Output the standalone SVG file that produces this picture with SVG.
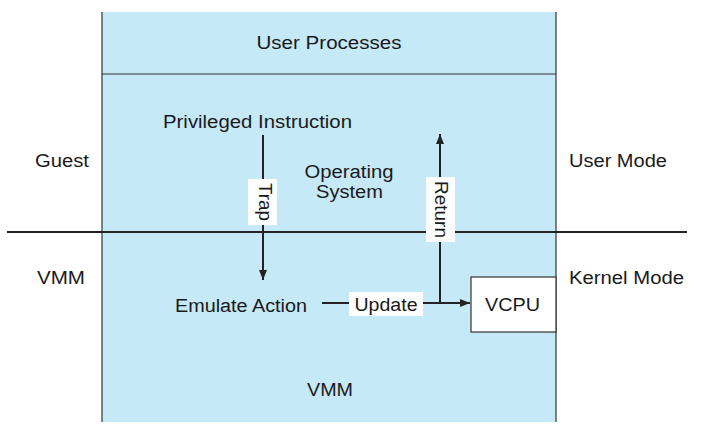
<svg xmlns="http://www.w3.org/2000/svg" width="703" height="431" viewBox="0 0 703 431">
<style>
text{font-family:"Liberation Sans",Arial,sans-serif;font-size:18px;fill:#1a1a1a}
.c{text-anchor:middle}
.ln{stroke:#222;stroke-width:2;fill:none}
.bd{stroke:#333;stroke-width:1.2;fill:none}
.lbl{fill:#fff;stroke:none}
</style>
<defs>
<marker id="ah" viewBox="0 0 10 10" refX="10" refY="5" markerWidth="10" markerHeight="10" markerUnits="userSpaceOnUse" orient="auto">
<path d="M0,1 L10,5 L0,9 Z" fill="#222"/>
</marker>
</defs>
<rect width="703" height="431" fill="#fff"/>
<g id="vm-area">
<rect x="102" y="12" width="454" height="410" fill="#c6e9f8"/>
<line class="bd" x1="102" y1="12" x2="102" y2="422"/>
<line class="bd" x1="556" y1="12" x2="556" y2="422"/>
<line class="bd" x1="102" y1="74" x2="556" y2="74"/>
</g>
<g id="user-processes"><text x="329" y="49" class="c" textLength="145" lengthAdjust="spacingAndGlyphs">User Processes</text></g>
<g id="privileged-instruction"><text x="163" y="128" textLength="189" lengthAdjust="spacingAndGlyphs">Privileged Instruction</text></g>
<g id="operating-system">
<text x="349" y="178" class="c" textLength="89" lengthAdjust="spacingAndGlyphs">Operating</text>
<text x="349.5" y="198" class="c" textLength="67" lengthAdjust="spacingAndGlyphs">System</text>
</g>
<g id="guest"><text x="35" y="167" textLength="54" lengthAdjust="spacingAndGlyphs">Guest</text></g>
<g id="vmm-left"><text x="37" y="284" textLength="48" lengthAdjust="spacingAndGlyphs">VMM</text></g>
<g id="user-mode"><text x="569" y="167" textLength="98" lengthAdjust="spacingAndGlyphs">User Mode</text></g>
<g id="kernel-mode"><text x="569" y="284" textLength="115" lengthAdjust="spacingAndGlyphs">Kernel Mode</text></g>
<g id="emulate-action"><text x="175" y="312" textLength="132" lengthAdjust="spacingAndGlyphs">Emulate Action</text></g>
<g id="vmm-bottom"><text x="330" y="396" class="c" textLength="46" lengthAdjust="spacingAndGlyphs">VMM</text></g>
<g id="vcpu">
<rect x="471" y="277" width="85" height="55" fill="#fff" stroke="#333" stroke-width="1.2"/>
<text x="512.5" y="311" class="c" textLength="55" lengthAdjust="spacingAndGlyphs">VCPU</text>
</g>
<g id="connectors">
<line class="ln" x1="7" y1="232" x2="687" y2="232"/>
<line class="ln" x1="263" y1="135" x2="263" y2="280" marker-end="url(#ah)"/>
<line class="ln" x1="440" y1="304" x2="440" y2="134" marker-end="url(#ah)"/>
<line class="ln" x1="322" y1="303" x2="470" y2="303" marker-end="url(#ah)"/>
<rect class="lbl" x="248" y="179" width="29" height="46"/>
<text transform="translate(258.5,202) rotate(90)" class="c" textLength="38" lengthAdjust="spacingAndGlyphs">Trap</text>
<rect class="lbl" x="426" y="177" width="29" height="65"/>
<text transform="translate(434.5,209.5) rotate(90)" class="c" textLength="57" lengthAdjust="spacingAndGlyphs">Return</text>
<rect class="lbl" x="349" y="292" width="74" height="24"/>
<text x="386" y="311" class="c" textLength="63" lengthAdjust="spacingAndGlyphs">Update</text>
</g>
</svg>
